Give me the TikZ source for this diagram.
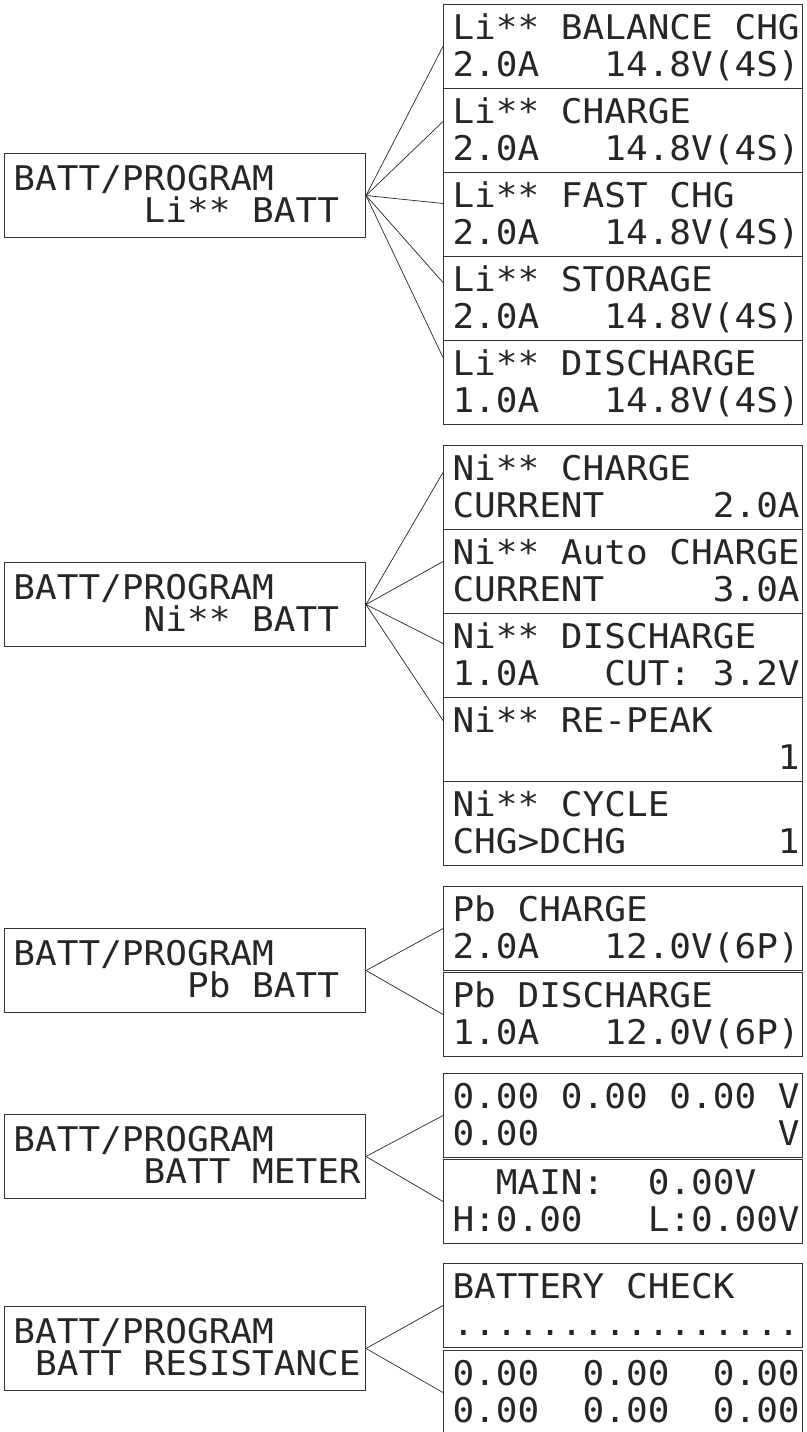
\documentclass[tikz,border=0pt]{standalone}
\usepackage{fontspec}
\newfontfamily\lcdfont{DejaVu Sans Mono}[FakeStretch=1.06]
\newlength\lcdpad
\setlength\lcdpad{9pt}
% two rows of a 16 column display: width, first baseline, row gap, rows
\newcommand{\lcdrows}[5]{\vbox to 84pt{\offinterlineskip
  \kern#2\hbox to #1{\kern\lcdpad\smash{#4}\hss}%
  \kern#3\hbox to #1{\kern\lcdpad\smash{#5}\hss}\vfil}}
\newcommand{\lcd}[2]{\lcdrows{359pt}{35pt}{37pt}{#1}{#2}}
\newcommand{\lcdroot}[1]{\lcdrows{361pt}{37pt}{32pt}{BATT/PROGRAM}{#1}}
\tikzset{
  lcdbox/.style={draw=black!80, line width=1pt, inner sep=0pt, anchor=north west,
    font=\lcdfont\fontsize{34pt}{34pt}\selectfont, text=black!85},
  wire/.style={line width=0.7pt, black!85}
}

\begin{document}
\begin{tikzpicture}[x=1pt, y=-1pt]
  \useasboundingbox (0,0) rectangle (806,1432);

  \node[lcdbox] (liroot) at (4,153) {\lcdroot{~~~~~~Li**~BATT}};
  \node[lcdbox] (li1) at (443,4)   {\lcd{Li**~BALANCE~CHG}{2.0A~~~14.8V(4S)}};
  \node[lcdbox] (li2) at (443,88)  {\lcd{Li**~CHARGE}{2.0A~~~14.8V(4S)}};
  \node[lcdbox] (li3) at (443,172) {\lcd{Li**~FAST~CHG}{2.0A~~~14.8V(4S)}};
  \node[lcdbox] (li4) at (443,256) {\lcd{Li**~STORAGE}{2.0A~~~14.8V(4S)}};
  \node[lcdbox] (li5) at (443,340) {\lcd{Li**~DISCHARGE}{1.0A~~~14.8V(4S)}};
  \foreach \n/\s in {1/0,2/9,3/11,4/16,5/25}
    \draw[wire] (liroot.east) -- ([yshift=\s pt]li\n.west);

  \node[lcdbox] (niroot) at (4,562) {\lcdroot{~~~~~~Ni**~BATT}};
  \node[lcdbox] (ni1) at (443,445) {\lcd{Ni**~CHARGE}{CURRENT~~~~~2.0A}};
  \node[lcdbox] (ni2) at (443,529) {\lcd{Ni**~Auto~CHARGE}{CURRENT~~~~~3.0A}};
  \node[lcdbox] (ni3) at (443,613) {\lcd{Ni**~DISCHARGE}{1.0A~~~CUT:~3.2V}};
  \node[lcdbox] (ni4) at (443,697) {\lcd{Ni**~RE-PEAK}{~~~~~~~~~~~~~~~1}};
  \node[lcdbox] (ni5) at (443,781) {\lcd{Ni**~CYCLE}{CHG>DCHG~~~~~~~1}};
  \foreach \n/\s in {1/15,2/10,3/12,4/19}
    \draw[wire] (niroot.east) -- ([yshift=\s pt]ni\n.west);

  \node[lcdbox] (pbroot) at (4,928) {\lcdroot{~~~~~~~~Pb~BATT}};
  \node[lcdbox] (pb1) at (443,886) {\lcd{Pb~CHARGE}{2.0A~~~12.0V(6P)}};
  \node[lcdbox] (pb2) at (443,972) {\lcd{Pb~DISCHARGE}{1.0A~~~12.0V(6P)}};
  \draw[wire] (pbroot.east) -- (pb1.west);
  \draw[wire] (pbroot.east) -- (pb2.west);

  \node[lcdbox] (meterroot) at (4,1114) {\lcdroot{~~~~~~BATT~METER}};
  \node[lcdbox] (meter1) at (443,1073) {\lcd{0.00~0.00~0.00~V}{0.00~~~~~~~~~~~V}};
  \node[lcdbox] (meter2) at (443,1159) {\lcd{~~MAIN:~~0.00V}{H:0.00~~~L:0.00V}};
  \draw[wire] (meterroot.east) -- (meter1.west);
  \draw[wire] (meterroot.east) -- (meter2.west);

  \node[lcdbox] (resroot) at (4,1306) {\lcdroot{~BATT~RESISTANCE}};
  \node[lcdbox] (res1) at (443,1263) {\lcd{BATTERY~CHECK}{................}};
  \node[lcdbox] (res2) at (443,1350) {\lcd{0.00~~0.00~~0.00}{0.00~~0.00~~0.00}};
  \draw[wire] (resroot.east) -- (res1.west);
  \draw[wire] (resroot.east) -- (res2.west);
\end{tikzpicture}
\end{document}
